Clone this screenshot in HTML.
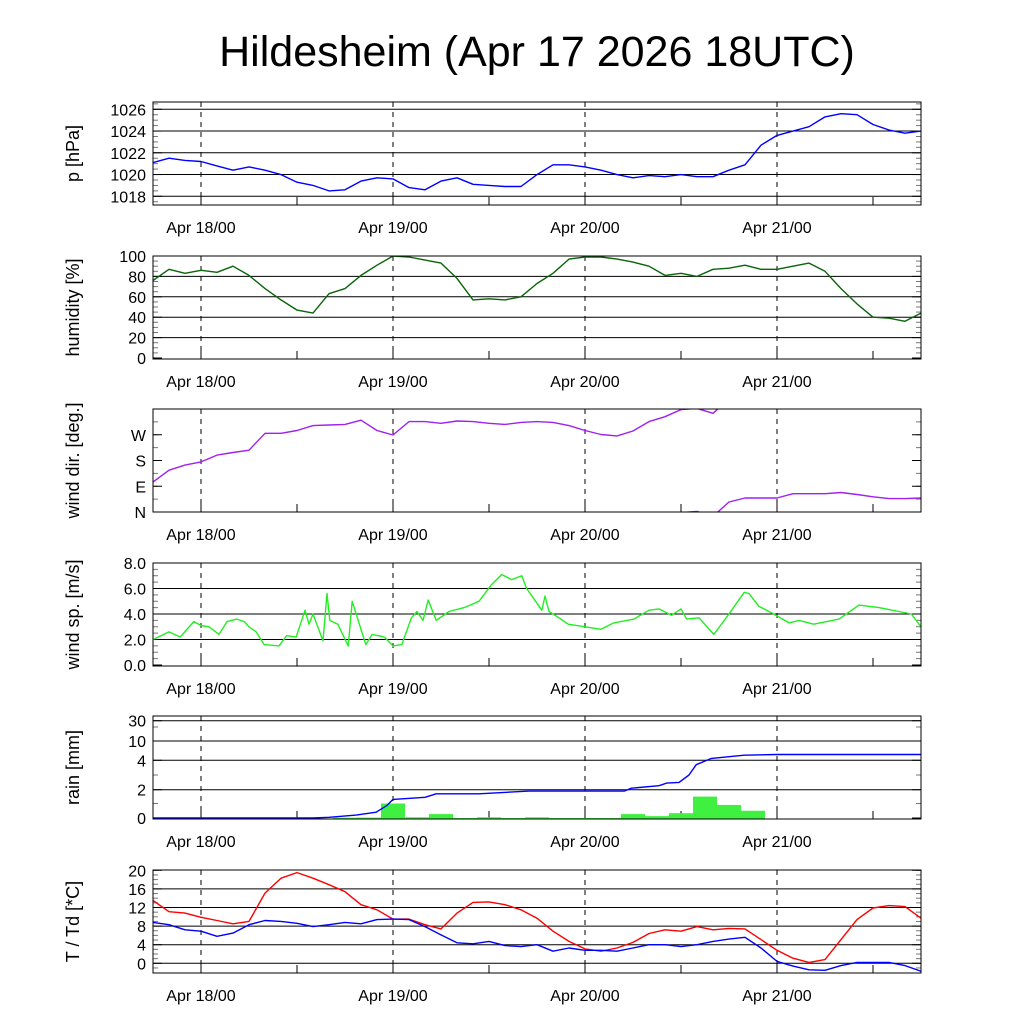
<!DOCTYPE html>
<html><head><meta charset="utf-8"><title>Hildesheim meteogram</title>
<style>
html,body{margin:0;padding:0;background:#fff;}
svg{display:block;font-family:"Liberation Sans",sans-serif;}
</style></head>
<body>
<svg id="chart" width="1024" height="1024" viewBox="0 0 1024 1024" xmlns="http://www.w3.org/2000/svg">
<rect x="0" y="0" width="1024" height="1024" fill="#fff"/>
<text x="537" y="66" font-size="43" text-anchor="middle" fill="#000">Hildesheim (Apr 17 2026 18UTC)</text>
<defs id="defs"></defs>
<g id="layer"></g>
</svg>
<script>
// ---- data (hours relative to Apr 18 00UTC) ----
const times = [-6,-4,-2,0,2,4,6,8,10,12,14,16,18,20,22,24,26,28,30,32,34,36,38,40,42,44,46,48,50,52,54,56,58,60,62,64,66,68,70,72,74,76,78,80,82,84,86,88,90];
const pressure = [1021.1,1021.5,1021.3,1021.2,1020.8,1020.4,1020.7,1020.4,1020.0,1019.3,1019.0,1018.5,1018.6,1019.4,1019.7,1019.6,1018.8,1018.6,1019.4,1019.7,1019.1,1019.0,1018.9,1018.9,1020.0,1020.9,1020.9,1020.7,1020.4,1020.0,1019.7,1019.9,1019.8,1020.0,1019.8,1019.8,1020.4,1020.9,1022.7,1023.6,1024.0,1024.4,1025.3,1025.6,1025.5,1024.6,1024.1,1023.8,1024.0];
const humidity = [76,87,83,86,84,90,81,68,57,47,44,63,68,81,91,100,99,96,93,78,57,58,57,60,73,83,97,99,99,97,94,90,81,83,80,87,88,91,87,87,90,93,85,68,53,40,39,36,44];
const windDir = [105,146,164,175,199,208,216,275,275,285,302,304,306,321,285,269,316,316,310,318,316,310,306,313,316,313,302,285,271,266,283,316,333,358,362,345,395,409,409,409,424,424,424,428,421,413,407,407,409];
const tempT = [13.5,11.1,10.8,9.9,9.2,8.5,9.0,15.1,18.3,19.5,18.3,16.9,15.4,12.6,11.5,9.5,9.5,8.3,7.4,10.8,13.1,13.2,12.6,11.5,9.7,6.9,4.7,3.1,2.6,3.3,4.5,6.4,7.2,6.9,7.9,7.2,7.5,7.4,5.1,2.8,1.1,0.2,0.8,5.1,9.4,11.9,12.4,12.2,9.7];
const tempTd = [8.8,8.3,7.2,6.9,5.8,6.5,8.3,9.2,9.0,8.6,7.9,8.3,8.8,8.5,9.4,9.5,9.4,7.9,6.1,4.4,4.2,4.7,3.8,3.6,4.0,2.6,3.3,2.8,2.8,2.6,3.3,4.0,4.0,3.6,4.0,4.7,5.2,5.6,3.3,0.4,-0.6,-1.4,-1.5,-0.5,0.2,0.2,0.2,-0.5,-1.7];
const windTimes = [-6,-4,-2.6,-0.9,0,1,2.25,3.25,4.5,5.4,6,6.9,7.9,9.75,10.7,11.9,13,13.5,14,15.25,15.75,16.1,17.1,18.4,18.9,20.6,21.4,22.9,24,25.1,26.3,27,27.75,28.4,29.4,31,32.9,34.75,36.3,37.6,38.8,40.1,40.7,41.6,42.6,43,43.5,44.75,45.9,48,50,51.6,54.1,56,57.25,58.8,60,60.7,62.25,64.1,66,67.9,68.5,69.75,71.6,73.5,74.75,76.6,79.75,82.25,84.75,87.25,88.8,90];
const windSpeed = [2.0,2.6,2.2,3.4,3.1,3.0,2.4,3.4,3.6,3.4,3.0,2.6,1.6,1.5,2.3,2.2,4.3,3.2,4.0,1.9,5.6,3.5,3.2,1.5,5.0,1.6,2.4,2.2,1.5,1.6,3.7,4.2,3.5,5.1,3.5,4.2,4.5,5.0,6.3,7.1,6.7,7.0,6.0,5.2,4.3,5.4,4.2,3.7,3.2,3.0,2.8,3.3,3.6,4.3,4.4,3.9,4.4,3.6,3.7,2.4,4.0,5.7,5.6,4.6,4.0,3.3,3.5,3.2,3.6,4.7,4.5,4.2,4.0,3.0];
const rainCumTimes = [-6,14,16,19.4,21.9,23.2,24,28,29.4,34.75,41,52.9,53.8,57.25,58.2,59.75,61,61.9,63.8,67.9,72,90];
const rainCum = [0,0,0.05,0.2,0.4,0.85,1.3,1.45,1.7,1.7,1.9,1.9,2.1,2.27,2.45,2.5,3.0,3.7,4.6,5.6,5.8,5.8];
const rainBinTimes = [18,21,24,27,30,33,36,39,42,45,48,51,54,57,60,63,66,69];
const rainBins = [0.02,0.03,1.0,0.05,0.27,0,0.05,0,0.05,0,0,0,0.27,0.13,0.33,1.5,0.9,0.5];
const dayTicks = [0,24,48,72];
const dayLabels = ["Apr 18/00","Apr 19/00","Apr 20/00","Apr 21/00"];

// ---- layout ----
const NS = "http://www.w3.org/2000/svg";
const layer = document.getElementById('layer');
const defs = document.getElementById('defs');
const X0 = 153, X1 = 921;
function xs(h){ return X0 + (h + 6) * 8; }
function el(tag, attrs, parent){
  const e = document.createElementNS(NS, tag);
  for (const k in attrs) e.setAttribute(k, attrs[k]);
  (parent || layer).appendChild(e);
  return e;
}
const rainMapV = [0,1,2,3,4,10,20,30];
const rainMapP = [818,803.5,789.7,775,760.3,741,727,720.7];
function yRain(v){
  for (let i=1;i<rainMapV.length;i++){
    if (v <= rainMapV[i]){ const a=rainMapV[i-1], b=rainMapV[i]; return rainMapP[i-1] + (v-a)/(b-a)*(rainMapP[i]-rainMapP[i-1]); }
  }
  return rainMapP[rainMapP.length-1];
}
const panels = [
  {name:'pressure', top:102, title:'p [hPa]', y:v=>109.3+(1026-v)*10.875,
   major:[1018,1020,1022,1024,1026], labels:['1018','1020','1022','1024','1026'], minorStep:0.5, minorFrom:1017.5, minorTo:1026.5},
  {name:'humidity', top:256, title:'humidity [%]', y:v=>358-v*1.02,
   major:[0,20,40,60,80,100], labels:['0','20','40','60','80','100'], minorStep:5, minorFrom:0, minorTo:100},
  {name:'wind-direction', top:409, title:'wind dir. [deg.]', y:v=>512-v*103/360,
   major:[0,90,180,270], labels:['N','E','S','W'], minorStep:45, minorFrom:0, minorTo:360, noGrid:true},
  {name:'wind-speed', top:563, title:'wind sp. [m/s]', y:v=>665-v*12.75,
   major:[0,2,4,6,8], labels:['0.0','2.0','4.0','6.0','8.0'], minorStep:0.5, minorFrom:0, minorTo:8},
  {name:'rain', top:716, title:'rain [mm]', y:yRain,
   major:[0,2,4,10,30], labels:['0','2','4','10','30'], minorList:[1,3,20]},
  {name:'temperature', top:870, title:'T / Td [*C]', y:v=>963.3-v*4.65,
   major:[0,4,8,12,16,20], labels:['0','4','8','12','16','20'], minorStep:1, minorFrom:-1, minorTo:20}
];
const H = 103;

panels.forEach((p, pi) => {
  const g = el('g', {});
  
  
  const bot = p.top + H;
  const cp = el('clipPath', {id:'clip'+pi}, defs);
  el('rect', {x:X0, y:p.top, width:X1-X0, height:H}, cp);
  if (!p.noGrid) p.major.forEach(v => {
    const y = p.y(v);
    if (y > p.top+1 && y < bot-1) {
      const l = el('line', {x1:X0, x2:X1, y1:y, y2:y, stroke:'#000', 'stroke-width':1}, g);
      
      
    }
  });
  let minors = [];
  if (p.minorList) minors = p.minorList;
  else for (let v=p.minorFrom; v<=p.minorTo+1e-9; v+=p.minorStep) minors.push(v);
  minors.forEach(v => {
    const y = p.y(v);
    if (y < p.top || y > bot) return;
    el('line', {x1:X0, x2:X0+5, y1:y, y2:y, stroke:'#777', 'stroke-width':1}, g);
    el('line', {x1:X1-5, x2:X1, y1:y, y2:y, stroke:'#777', 'stroke-width':1}, g);
  });
  p.major.forEach((v, i) => {
    const y = p.y(v);
    el('line', {x1:X0, x2:X0+9, y1:y, y2:y, stroke:'#000', 'stroke-width':1}, g);
    el('line', {x1:X1-9, x2:X1, y1:y, y2:y, stroke:'#000', 'stroke-width':1}, g);
    const t = el('text', {x:146, y:y+6, 'font-size':16, 'text-anchor':'end', fill:'#000'}, g);
    t.textContent = p.labels[i];
    
    
  });
  for (let h=0; h<=90; h+=12) {
    const x = xs(h);
    el('line', {x1:x, x2:x, y1:bot-8, y2:bot, stroke:'#000', 'stroke-width':1}, g);
  }
  dayTicks.forEach((h, i) => {
    const x = xs(h);
    const d = el('line', {x1:x, x2:x, y1:p.top, y2:bot, stroke:'#000', 'stroke-width':1, 'stroke-dasharray':'5,5'}, g);
    
    
    const t = el('text', {x:x, y:bot+28, 'font-size':16, 'text-anchor':'middle', fill:'#000'}, g);
    t.textContent = dayLabels[i];
    
    
  });
  const cy = p.top + H/2;
  const tt = el('text', {x:0, y:0, 'font-size':18, 'text-anchor':'middle', fill:'#000', transform:'translate(79,'+cy+') rotate(-90)'}, g);
  tt.textContent = p.title;
  
  
  p.g = g; p.bot = bot; p.clip = 'url(#clip'+pi+')';
});

function drawLine(p, ts, vs, color, name, shift){
  let d = '';
  ts.forEach((t,i) => { d += (i?'L':'M') + xs(t).toFixed(1) + ',' + p.y(vs[i] - (shift||0)).toFixed(1); });
  const path = el('path', {d:d, fill:'none', stroke:color, 'stroke-width':1.4, 'stroke-linejoin':'round', 'clip-path':p.clip}, p.g);
  
  
  return path;
}

rainBinTimes.forEach((t, i) => {
  const p = panels[4];
  const y = p.y(rainBins[i]);
  if (p.bot - y < 0.3) return;
  const r = el('rect', {x:xs(t-1.5), y:y, width:xs(t+1.5)-xs(t-1.5), height:p.bot-y, fill:'#40f040', 'clip-path':p.clip}, p.g);
  
  
});

drawLine(panels[0], times, pressure, '#0000ff', 'pressure-line');
drawLine(panels[1], times, humidity, '#0a640a', 'humidity-line');
drawLine(panels[2], times, windDir, '#a020f0', 'wind-direction-line');
drawLine(panels[2], times, windDir, '#a020f0', 'wind-direction-line-wrapped', 360);
drawLine(panels[3], windTimes, windSpeed, '#22ee22', 'wind-speed-line');
drawLine(panels[4], rainCumTimes, rainCum, '#0000ff', 'rain-cumulative-line');
drawLine(panels[5], times, tempT, '#ff0000', 'temperature-line');
drawLine(panels[5], times, tempTd, '#0000ff', 'dewpoint-line');

panels.forEach(p => {
  const f = el('rect', {x:X0, y:p.top, width:X1-X0, height:H, fill:'none', stroke:'#000', 'stroke-width':1}, p.g);
  
  
});
</script>
</body></html>
